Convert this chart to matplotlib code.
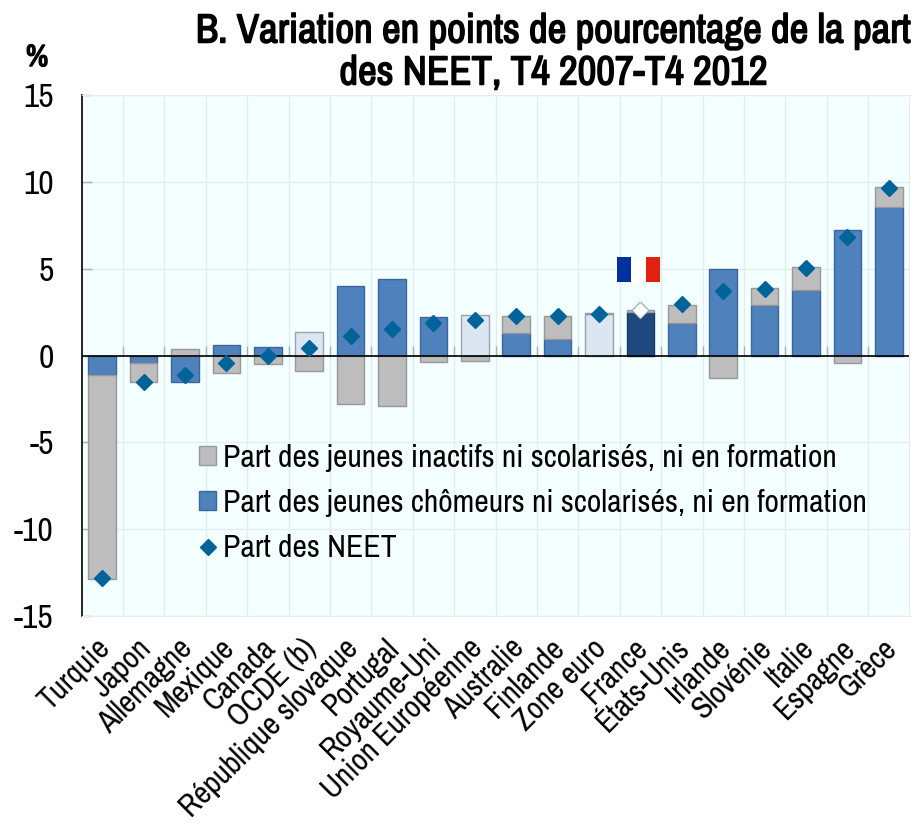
import matplotlib as mpl
mpl.use('Agg')
import matplotlib.pyplot as plt
import matplotlib.patheffects as pe
import numpy as np
from matplotlib.lines import Line2D
from matplotlib.patches import Patch, Rectangle
from matplotlib.transforms import ScaledTranslation

plt.rcParams['font.family'] = ['Archivo Narrow', 'Liberation Sans', 'DejaVu Sans']

pays = ['Turquie', 'Japon', 'Allemagne', 'Mexique', 'Canada', 'OCDE (b)',
        'République slovaque', 'Portugal', 'Royaume-Uni', 'Union Européenne',
        'Australie', 'Finlande', 'Zone euro', 'France', 'États-Unis', 'Irlande',
        'Slovénie', 'Italie', 'Espagne', 'Grèce']
chomeurs = [-1.15, -0.45, -1.5, 0.6, 0.5, 1.35, 4.0, 4.4, 2.2, 2.35,
            1.3, 0.95, 2.4, 2.5, 1.85, 5.0, 2.9, 3.8, 7.2, 8.55]
inactifs = [-11.7, -1.1, 0.35, -1.0, -0.5, -0.9, -2.8, -2.9, -0.35, -0.3,
            1.0, 1.35, 0.05, 0.1, 1.05, -1.3, 1.0, 1.3, -0.45, 1.15]
neet = [-12.8, -1.55, -1.1, -0.45, 0.0, 0.45, 1.15, 1.5, 1.85, 2.05,
        2.3, 2.3, 2.4, 2.6, 2.95, 3.7, 3.85, 5.05, 6.85, 9.65]
aggregats = ['OCDE (b)', 'Union Européenne', 'Zone euro']

BLEU = '#4f81bd'
GRIS = '#bdbdbd'
NAVY = '#1f497d'
CLAIR = '#dce6f2'
LOSANGE = '#00649b'

x = np.arange(len(pays))
chomeurs = np.array(chomeurs)
inactifs = np.array(inactifs)

couleurs = []
bords = []
for p in pays:
    if p == 'France':
        couleurs.append(NAVY)
        bords.append('#173a66')
    elif p in aggregats:
        couleurs.append(CLAIR)
        bords.append('#9aa3ad')
    else:
        couleurs.append(BLEU)
        bords.append('#3d669a')

# le gris s'empile sur le bleu quand les deux ont le meme signe
base = np.where(np.sign(chomeurs) == np.sign(inactifs), chomeurs, 0)

fig = plt.figure(figsize=(9.15, 8.26), dpi=100)
ax = fig.add_axes([81.5/915, 1-616/826, 828/915, 521/826])
ax.set_facecolor('#f4ffff')

ax.set_xticks(x)
ax.set_xticks(x[:-1] + 0.5, minor=True)
ax.set_xticklabels(pays, rotation=45, ha='right', va='top', rotation_mode='anchor', fontsize=22.3)
ax.set_yticks([-15, -10, -5, 0, 5, 10, 15])
ax.set_yticklabels(['-15', '-10', '-5', '0', '5', '10', '15'], fontsize=24)
ax.set_xlim(-0.5, len(pays)-0.5)
ax.set_ylim(-15, 15)

ax.grid(axis='y', color='#e2eded', lw=1)
ax.grid(axis='x', which='minor', color='#e2eded', lw=1)
ax.set_axisbelow(True)
ax.tick_params(axis='y', direction='in', length=7, color='#a8b0b0', pad=20, width=1)
ax.tick_params(axis='x', which='major', length=0, pad=14)
ax.tick_params(axis='x', which='minor', length=0)

# decale les noms de pays vers la gauche (apres tick_params, qui remet le transform a zero)
decalage = ScaledTranslation(-7/100, 2/100, fig.dpi_scale_trans)
for t in ax.get_xticklabels():
    t.set_transform(t.get_transform() + decalage)

for s in ['top', 'right', 'bottom']:
    ax.spines[s].set_color('#e2eded')
ax.spines['left'].set_color('black')
ax.spines['left'].set_linewidth(1.2)

# petits traits au dessus du zero entre les pays
ax.vlines(x[:-1] + 0.5, 0, 0.55, color='#a8b0b0', lw=1, zorder=1.5)

ax.bar(x, chomeurs, width=0.67, color=couleurs, edgecolor=bords, lw=1, zorder=2)
ax.bar(x, inactifs, bottom=base, width=0.67, color=GRIS, edgecolor='#989898', lw=1, zorder=2)
ax.axhline(0, color='black', lw=1.2, zorder=3)

ax.plot(x, neet, ls='none', marker='D', ms=8.6, color=LOSANGE, mec=LOSANGE, zorder=4)
i_fr = pays.index('France')
ax.plot(x[i_fr], neet[i_fr], ls='none', marker='D', ms=8.6, color='white', mec='#c8c8c8', mew=0.8, zorder=5)

poignees = [Patch(facecolor=GRIS, edgecolor='#989898'),
            Patch(facecolor=BLEU, edgecolor='#3d669a'),
            Line2D([], [], ls='none', marker='D', ms=8.6, color=LOSANGE)]
noms = ['Part des jeunes inactifs ni scolarisés, ni en formation',
        'Part des jeunes chômeurs ni scolarisés, ni en formation',
        'Part des NEET']
ax.legend(poignees, noms, frameon=False, fontsize=22.8, loc='upper left',
          bbox_to_anchor=(0.142, 0.331), handlelength=0.55, handleheight=0.55,
          handletextpad=0.2, labelspacing=0.55, borderpad=0, borderaxespad=0)

# drapeau
for x0, larg, c in [(617, 14, '#002f9e'), (631, 15, 'white'), (646, 14, '#e02010')]:
    fig.patches.append(Rectangle((x0/915, 1-282/826), larg/915, 25/826,
                                 transform=fig.transFigure, fc=c, ec='none', zorder=6))

# Archivo Narrow n'a pas de gras ici : on epaissit le trait
gras = [pe.withStroke(linewidth=1.1, foreground='black')]
fig.text(553.5/915, 1-31/826, 'B. Variation en points de pourcentage de la part',
         ha='center', va='center', fontsize=29.4, path_effects=gras)
fig.text(553.5/915, 1-73/826, 'des NEET, T4 2007-T4 2012',
         ha='center', va='center', fontsize=29.4, path_effects=gras)
fig.text(37/915, 1-57/826, '%', ha='center', va='center', fontsize=22, path_effects=gras)

fig.savefig('out.png', dpi=100)
